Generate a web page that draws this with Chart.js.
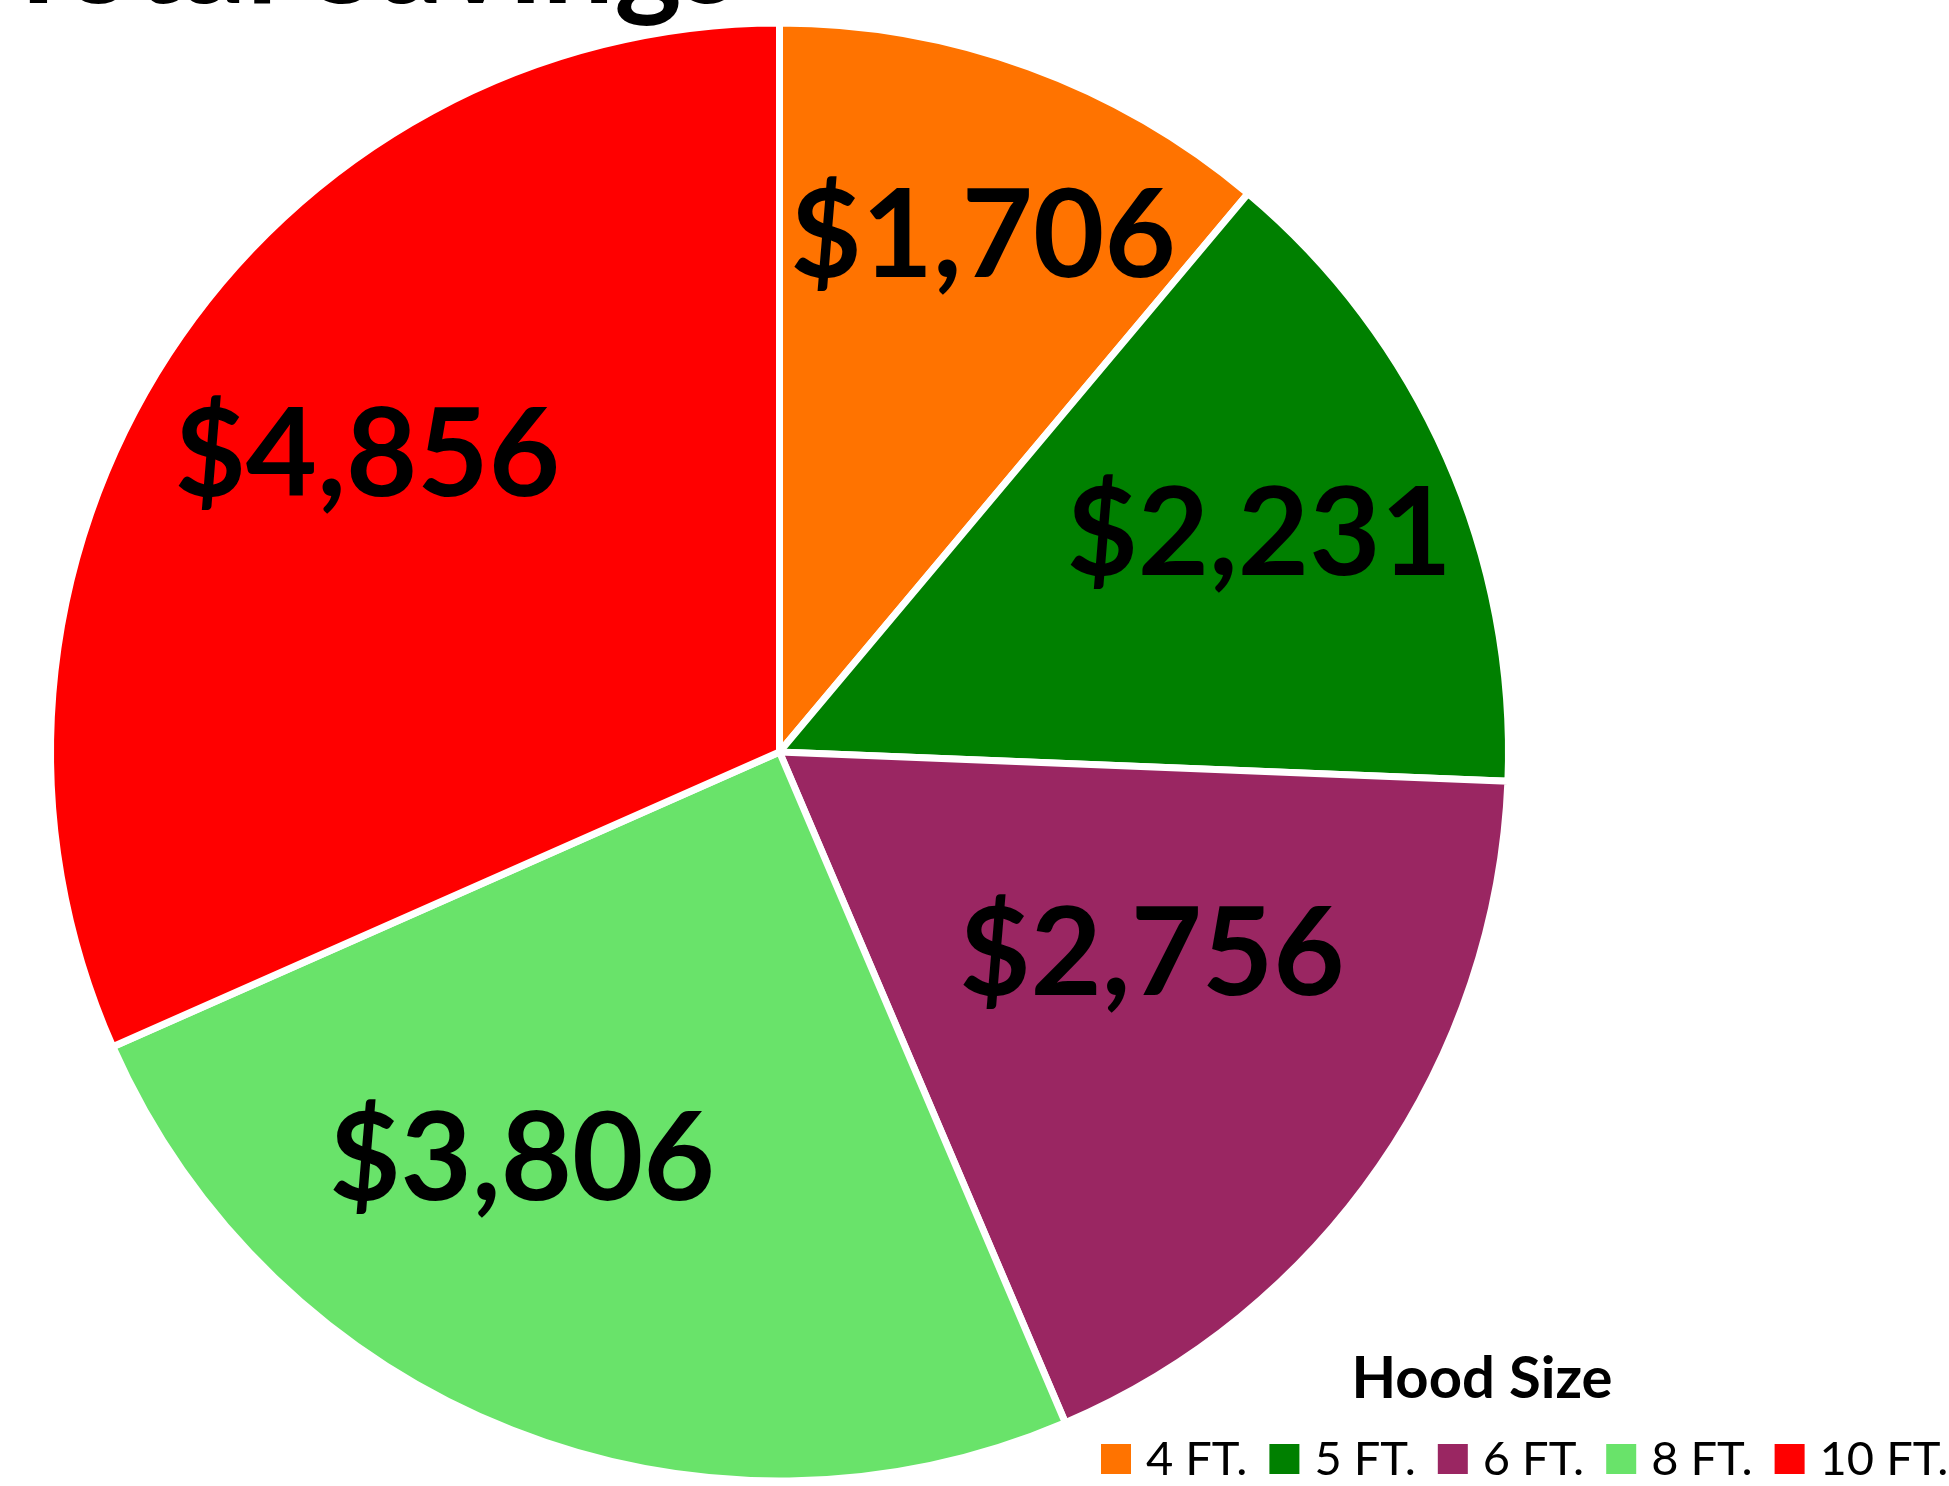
<!DOCTYPE html>
<html>
<head>
<meta charset="utf-8">
<script src="https://cdn.jsdelivr.net/npm/chart.js@4/dist/chart.umd.min.js"></script>
<style>
  html, body { margin: 0; padding: 0; background: #ffffff; overflow: hidden; }
  canvas { display: block; }
</style>
</head>
<body>
<canvas id="c" width="1949" height="1486"></canvas>
<script>
// ---- data ----
const categories = ['4 FT.', '5 FT.', '6 FT.', '8 FT.', '10 FT.'];
const savings = [1706, 2231, 2756, 3806, 4856];
const sliceColors = ['#FF7300', '#008000', '#9A2662', '#69E36A', '#FF0000'];
const chartTitle = 'Total Savings';
const legendTitle = 'Hood Size';

// ---- label placement (style, not data) ----
const labelAngleOffsetDeg = [1.4, -0.9, -6.5, 11, 3];
const labelRadiusFrac = [0.769, 0.728, 0.582, 0.660, 0.703];

const FONT = 'Lato, "Open Sans", "DejaVu Sans", sans-serif';

const titlePlugin = {
  id: 'croppedTitle',
  afterDraw(chart) {
    const ctx = chart.ctx;
    ctx.save();
    ctx.fillStyle = '#000';
    ctx.font = 'bold 128px ' + FONT;
    ctx.textAlign = 'left';
    ctx.textBaseline = 'alphabetic';
    ctx.fillText(chartTitle, 0, 3);
    ctx.restore();
  }
};

const valueLabels = {
  id: 'valueLabels',
  afterDatasetsDraw(chart) {
    const ctx = chart.ctx;
    const meta = chart.getDatasetMeta(0);
    const ds = chart.data.datasets[0];
    ctx.save();
    ctx.fillStyle = '#000';
    ctx.font = 'bold 123px ' + FONT;
    ctx.textAlign = 'center';
    ctx.textBaseline = 'alphabetic';
    meta.data.forEach((arc, i) => {
      const p = arc.getProps(['x', 'y', 'startAngle', 'endAngle', 'outerRadius'], true);
      const a = (p.startAngle + p.endAngle) / 2 + labelAngleOffsetDeg[i] * Math.PI / 180;
      const r = labelRadiusFrac[i] * (p.outerRadius - 3.5);
      const cx = p.x + Math.cos(a) * r;
      const cy = p.y + Math.sin(a) * r;
      const txt = '$' + ds.data[i].toLocaleString('en-US');
      ctx.fillText(txt, cx, cy + 44);
    });
    ctx.restore();
  }
};

const customLegend = {
  id: 'customLegend',
  afterDraw(chart) {
    const ctx = chart.ctx;
    const ds = chart.data.datasets[0];
    ctx.save();
    ctx.fillStyle = '#000';
    ctx.font = 'bold 58px ' + FONT;
    ctx.textAlign = 'center';
    ctx.textBaseline = 'alphabetic';
    ctx.fillText(legendTitle, 1482, 1398);

    ctx.font = '47px ' + FONT;
    ctx.textAlign = 'left';
    let x = 1101;
    const boxY = 1444, box = 30, base = 1475;
    chart.data.labels.forEach((lab, i) => {
      ctx.fillStyle = ds.backgroundColor[i];
      ctx.fillRect(x, boxY, box, box);
      x += box + 15;
      ctx.fillStyle = '#000';
      ctx.fillText(lab, x, base);
      x += ctx.measureText(lab).width + 22;
    });
    ctx.restore();
  }
};

new Chart(document.getElementById('c'), {
  type: 'pie',
  data: {
    labels: categories,
    datasets: [{
      data: savings,
      backgroundColor: sliceColors,
      borderColor: '#ffffff',
      borderWidth: 7,
      hoverOffset: 0,
      offset: 0
    }]
  },
  options: {
    responsive: false,
    animation: false,
    devicePixelRatio: 1,
    layout: { padding: { left: 47, right: 437, top: 19, bottom: 1 } },
    plugins: {
      legend: { display: false },
      title: { display: false },
      tooltip: { enabled: false }
    }
  },
  plugins: [valueLabels, customLegend, titlePlugin]
});
</script>
</body>
</html>
